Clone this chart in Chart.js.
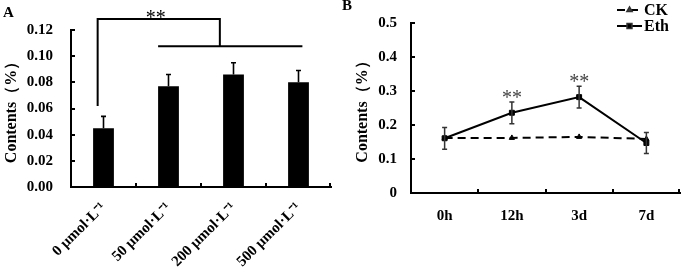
<!DOCTYPE html>
<html><head><meta charset="utf-8">
<script src="https://cdn.jsdelivr.net/npm/chart.js@4/dist/chart.umd.min.js"></script>
<style>
html,body{margin:0;padding:0;background:#fff;}
#wrap{position:relative;width:685px;height:274px;overflow:hidden;}
.box{position:absolute;top:0;height:274px;}
#boxA{left:0;width:340px;}
#boxB{left:340px;width:345px;}
</style></head><body>
<div id="wrap">
<div class="box" id="boxA"><canvas id="cA"></canvas></div>
<div class="box" id="boxB"><canvas id="cB"></canvas></div>
</div>
<script>
// ---- Panel A data ----
const concLabels = ['0 μmol·L⁻¹', '50 μmol·L⁻¹', '200 μmol·L⁻¹', '500 μmol·L⁻¹'];
const concValues = [0.045, 0.077, 0.086, 0.080];
const concErrors = [0.009, 0.009, 0.009, 0.009];
const yTicksA = [0, 0.02, 0.04, 0.06, 0.08, 0.10, 0.12];

// ---- Panel B data ----
const timeLabels = ['0h', '12h', '3d', '7d'];
const ckValues = [0.162, 0.162, 0.165, 0.159];
const ethValues = [0.161, 0.236, 0.282, 0.147];
const ethErrors = [0.032, 0.032, 0.032, 0.031];
const sigB = ['', '**', '**', ''];
const yTicksB = [0, 0.1, 0.2, 0.3, 0.4, 0.5];

const SERIF = '"Liberation Serif","Times New Roman",serif';

// bracket for panel A in (category index, value) units
const bracketA = {
  left: { x: -0.09, yTop: 0.1284, yBottom: 0.062 },
  right: { x: 1.79, yBottom: 0.1075 },
  span: { x0: 0.84, x1: 3.06 },
  text: '**'
};

function innerTicks(chart, len) {
  const ctx = chart.ctx, x = chart.scales.x, y = chart.scales.y;
  ctx.save();
  ctx.strokeStyle = '#000'; ctx.lineWidth = 2;
  y.ticks.forEach((t, i) => {
    const py = Math.round(y.getPixelForTick(i));
    ctx.beginPath(); ctx.moveTo(x.left, py); ctx.lineTo(x.left + len, py); ctx.stroke();
  });
  const n = x.ticks.length;
  for (let i = 1; i <= n; i++) {
    let px = Math.round(x.getPixelForValue(i - 0.5));
    if (i === n) px -= 1;
    ctx.beginPath(); ctx.moveTo(px, y.bottom); ctx.lineTo(px, y.bottom - len); ctx.stroke();
  }
  ctx.restore();
}

function drawErr(ctx, px, pyTop, pyBot, cap) {
  ctx.beginPath();
  ctx.moveTo(px, pyTop); ctx.lineTo(px, pyBot);
  ctx.moveTo(px - cap, pyTop); ctx.lineTo(px + cap, pyTop);
  ctx.moveTo(px - cap, pyBot); ctx.lineTo(px + cap, pyBot);
  ctx.stroke();
}

const plugA = {
  id: 'plugA',
  afterDatasetsDraw(chart) {
    const ctx = chart.ctx, x = chart.scales.x, y = chart.scales.y;
    innerTicks(chart, 4);
    ctx.save();
    ctx.strokeStyle = '#000'; ctx.lineWidth = 1.6;
    concValues.forEach((v, i) => {
      const px = x.getPixelForValue(i);
      const t = y.getPixelForValue(v + concErrors[i]);
      const b = y.getPixelForValue(v);
      ctx.beginPath(); ctx.moveTo(px, b); ctx.lineTo(px, t);
      ctx.moveTo(px - 2.5, t); ctx.lineTo(px + 2.5, t); ctx.stroke();
    });
    // bracket
    ctx.lineWidth = 2;
    const lx = x.getPixelForValue(bracketA.left.x), rx = x.getPixelForValue(bracketA.right.x);
    const ty = y.getPixelForValue(bracketA.left.yTop);
    ctx.beginPath();
    ctx.moveTo(lx, y.getPixelForValue(bracketA.left.yBottom));
    ctx.lineTo(lx, ty); ctx.lineTo(rx, ty);
    ctx.lineTo(rx, y.getPixelForValue(bracketA.right.yBottom));
    ctx.stroke();
    const sy = y.getPixelForValue(bracketA.right.yBottom);
    ctx.beginPath();
    ctx.moveTo(x.getPixelForValue(bracketA.span.x0), sy);
    ctx.lineTo(x.getPixelForValue(bracketA.span.x1), sy);
    ctx.stroke();
    ctx.fillStyle = '#000';
    ctx.font = '20px ' + SERIF;
    ctx.textAlign = 'center'; ctx.textBaseline = 'alphabetic';
    ctx.fillText(bracketA.text, (lx + rx) / 2 - 3, ty + 5);
    // panel letter
    ctx.font = 'bold 15px ' + SERIF;
    ctx.textAlign = 'left';
    ctx.fillText('A', 3, 17);
    ctx.restore();
  }
};

const plugB = {
  id: 'plugB',
  afterDatasetsDraw(chart) {
    const ctx = chart.ctx, x = chart.scales.x, y = chart.scales.y;
    innerTicks(chart, 4);
    ctx.save();
    ctx.strokeStyle = '#333'; ctx.lineWidth = 1.5;
    ethValues.forEach((v, i) => {
      const px = x.getPixelForValue(i);
      drawErr(ctx, px, y.getPixelForValue(v + ethErrors[i]), y.getPixelForValue(v - ethErrors[i]), 2.5);
    });
    ctx.fillStyle = '#444';
    ctx.font = '20px ' + SERIF;
    ctx.textAlign = 'center'; ctx.textBaseline = 'alphabetic';
    sigB.forEach((s, i) => {
      if (!s) return;
      ctx.fillText(s, x.getPixelForValue(i), y.getPixelForValue(ethValues[i] + ethErrors[i]) + 2);
    });
    // legend
    const items = [
      { ds: chart.data.datasets[0], y: 10 },
      { ds: chart.data.datasets[1], y: 26 }
    ];
    const lx0 = 277, lx1 = 302;
    items.forEach(it => {
      ctx.save();
      ctx.strokeStyle = '#000'; ctx.lineWidth = 2;
      ctx.setLineDash(it.ds.borderDash || []);
      ctx.beginPath(); ctx.moveTo(lx0, it.y); ctx.lineTo(lx1, it.y); ctx.stroke();
      ctx.restore();
      Chart.helpers.drawPoint(ctx, { pointStyle: it.ds.pointStyle, radius: it.ds.pointRadius, borderWidth: 1, rotation: 0 }, (lx0 + lx1) / 2, it.y);
      ctx.fillStyle = '#000';
      ctx.font = 'bold 16px ' + SERIF;
      ctx.textAlign = 'left'; ctx.textBaseline = 'middle';
      ctx.fillText(it.ds.label, lx1 + 2, it.y + 1);
    });
    ctx.font = 'bold 15px ' + SERIF;
    ctx.fillStyle = '#000';
    ctx.textAlign = 'left'; ctx.textBaseline = 'alphabetic';
    ctx.fillText('B', 2, 10);
    ctx.restore();
  }
};

const tickFont = { family: SERIF, size: 15, weight: 'bold' };
const titleFont = { family: SERIF, size: 16, weight: 'bold' };

new Chart(document.getElementById('cA'), {
  type: 'bar',
  data: {
    labels: concLabels,
    datasets: [{ data: concValues, backgroundColor: '#000', borderWidth: 0,
      categoryPercentage: 1, barPercentage: 0.32 }]
  },
  options: {
    responsive: true, maintainAspectRatio: false, animation: false,
    devicePixelRatio: 1,
    layout: { padding: { left: 0, top: 30, right: 9, bottom: 0 } },
    plugins: { legend: { display: false }, tooltip: { enabled: false } },
    scales: {
      x: {
        grid: { display: false, drawTicks: false, tickLength: 0 },
        border: { color: '#000', width: 2 },
        ticks: { color: '#000', font: tickFont, maxRotation: 45, minRotation: 45, padding: 12, autoSkip: false },
        afterFit: s => { s.height = 87; }
      },
      y: {
        min: 0, max: 0.12,
        grid: { display: false, drawTicks: false, tickLength: 0 },
        border: { color: '#000', width: 2 },
        afterBuildTicks: s => { s.ticks = yTicksA.map(v => ({ value: v })); },
        ticks: { color: '#000', font: tickFont, padding: 18, callback: v => Number(v).toFixed(2) },
        title: { display: true, text: 'Contents（%）', color: '#000', font: titleFont, padding: { top: 2, bottom: 0 } },
        afterFit: s => { s.width = 71; }
      }
    }
  },
  plugins: [plugA]
});

new Chart(document.getElementById('cB'), {
  type: 'line',
  data: {
    labels: timeLabels,
    datasets: [
      { label: 'CK', data: ckValues, borderColor: '#000', backgroundColor: '#000', borderWidth: 2,
        borderDash: [8, 5], pointStyle: 'triangle', pointRadius: 3, pointBorderWidth: 1, tension: 0 },
      { label: 'Eth', data: ethValues, borderColor: '#000', backgroundColor: '#000', borderWidth: 2,
        pointStyle: 'rect', pointRadius: 3.5, pointBorderWidth: 1, tension: 0 }
    ]
  },
  options: {
    responsive: true, maintainAspectRatio: false, animation: false,
    devicePixelRatio: 1,
    layout: { padding: { left: 0, top: 20, right: 2, bottom: 0 } },
    plugins: { legend: { display: false }, tooltip: { enabled: false } },
    scales: {
      x: {
        offset: true,
        grid: { display: false, drawTicks: false, tickLength: 0 },
        border: { color: '#000', width: 2 },
        ticks: { color: '#000', font: tickFont, padding: 14, maxRotation: 0 },
        afterFit: s => { s.height = 81; }
      },
      y: {
        min: 0, max: 0.5,
        grid: { display: false, drawTicks: false, tickLength: 0 },
        border: { color: '#000', width: 2 },
        afterBuildTicks: s => { s.ticks = yTicksB.map(v => ({ value: v })); },
        ticks: { color: '#000', font: tickFont, padding: 14 },
        title: { display: true, text: 'Contents（%）', color: '#000', font: titleFont, padding: { top: 13, bottom: 0 } },
        afterFit: s => { s.width = 71; }
      }
    }
  },
  plugins: [plugB]
});
</script>
</body></html>
